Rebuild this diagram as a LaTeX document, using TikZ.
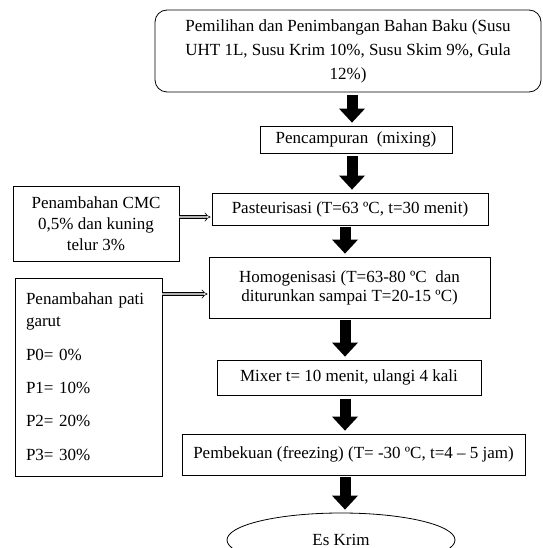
\documentclass[tikz,border=0pt]{standalone}
\usepackage{fontspec}
\setmainfont{Liberation Serif}
\usetikzlibrary{arrows.meta,shapes.geometric}
\begin{document}
\begin{tikzpicture}[x=1pt,y=-1pt,
  box/.style={draw, line width=0.8pt, inner sep=0pt, align=center, font=\fontsize{17}{22}\selectfont},
  blk/.style={line width=11pt, -{Triangle[width=26pt,length=14pt,line width=0pt]}},
  dbl/.style={double=gray!60, double distance=2.6pt, line width=0.6pt, -{Implies}, shorten >=1pt}]
\clip (0,0) rectangle (542,548);
% main column
\node[box, rounded corners=12pt, minimum width=386, minimum height=82, font=\fontsize{17}{24}\selectfont] (pilih) at (348,51)
  {Pemilihan dan Penimbangan Bahan Baku (Susu\\UHT 1L, Susu Krim 10\%, Susu Skim 9\%, Gula\\12\%)};
\node[box, minimum width=192, minimum height=27] (campur) at (356,139.5) {Pencampuran\ \ (mixing)};
\node[box, minimum width=276, minimum height=32] (pas) at (350,209) {Pasteurisasi (T=63 ºC, t=30 menit)};
\node[box, minimum width=281, minimum height=61, font=\fontsize{17}{19}\selectfont] (homo) at (349.5,287.5)
  {Homogenisasi (T=63-80 ºC\ \ dan\\diturunkan sampai T=20-15 ºC)};
\node[box, minimum width=264, minimum height=35] (mixer) at (349,377.5) {Mixer t= 10 menit, ulangi 4 kali};
\node[box, minimum width=343, minimum height=41] (beku) at (353.5,454.5) {Pembekuan (freezing) (T= -30 ºC, t=4 – 5 jam)};
\node[draw, line width=0.8pt, ellipse, minimum width=228, minimum height=54, inner sep=0pt, font=\fontsize{17}{22}\selectfont] (es) at (341,540) {Es Krim};
% side boxes
\node[box, minimum width=166, minimum height=75, font=\fontsize{17}{21}\selectfont] (cmc) at (96,223.5)
  {Penambahan CMC\\0,5\% dan kuning\\telur 3\%};
\node[box, minimum width=147, minimum height=198, align=left, text width=125] (pati) at (88.5,377)
  {Penambahan pati\\garut\\[12pt]P0= 0\%\\[11pt]P1= 10\%\\[11pt]P2= 20\%\\[12pt]P3= 30\%};
% block arrows
\coordinate (ax) at (352,0);
\coordinate (bx) at (345,0);
\draw[blk] ([yshift=-3pt]pilih.south -| ax) -- ([yshift=3pt]campur.north -| ax);
\draw[blk] ([yshift=-3pt]campur.south -| ax) -- ([yshift=3pt]pas.north -| ax);
\draw[blk] ([yshift=-2pt]pas.south -| bx) -- ([yshift=3pt]homo.north -| bx);
\draw[blk] ([yshift=-2pt]homo.south -| bx) -- ([yshift=3pt]mixer.north -| bx);
\draw[blk] ([yshift=-4pt]mixer.south -| bx) -- ([yshift=3pt]beku.north -| bx);
\draw[blk] ([yshift=-2pt]beku.south -| bx) -- ([yshift=3pt]es.north -| bx);
% double arrows
\coordinate (y1) at (0,217);
\coordinate (y2) at (0,294);
\draw[dbl] (cmc.east |- y1) -- (pas.west |- y1);
\draw[dbl] (pati.east |- y2) -- (homo.west |- y2);
\end{tikzpicture}
\end{document}
